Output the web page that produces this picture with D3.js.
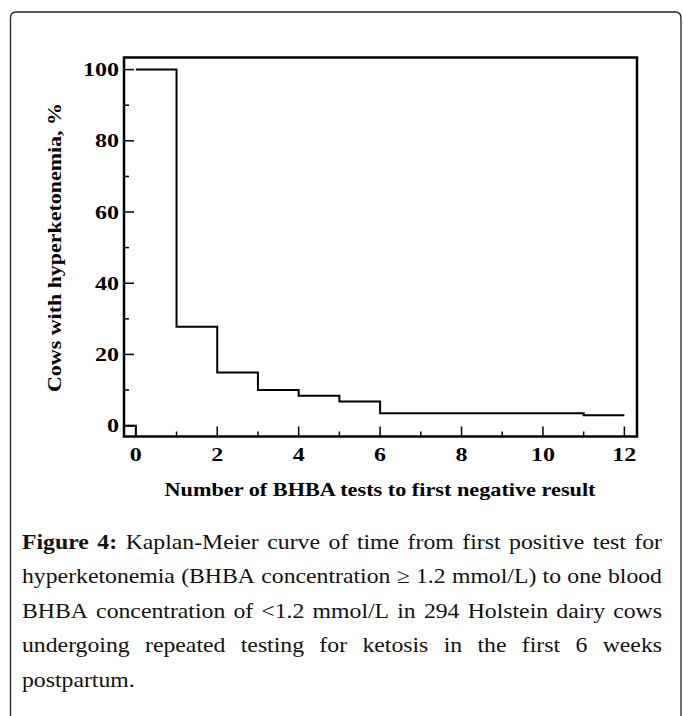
<!DOCTYPE html>
<html>
<head>
<meta charset="utf-8">
<script src="https://cdn.jsdelivr.net/npm/d3@7"></script>
<style>
  body { margin: 0; background: #fff; }
  svg { display: block; }
</style>
</head>
<body>
<svg id="plot"></svg>
<script>
// Kaplan-Meier step values (time = number of tests, value = % still hyperketonemic)
const times = [0, 1, 2, 3, 4, 5, 6, 7, 8, 9, 10, 11, 12];
const survival = [100, 27.8, 14.9, 10.0, 8.4, 6.8, 3.5, 3.5, 3.5, 3.5, 3.5, 2.9, 2.9];
// tiny segment drawn at the origin
const startX = [-0.29, 0, 0];
const startY = [0, 0, -3.05];

const xMajor = [0, 2, 4, 6, 8, 10, 12];
const xMinor = [1, 3, 5, 7, 9, 11];
const yMajor = [0, 20, 40, 60, 80, 100];
const yMinor = [10, 30, 50, 70, 90];

const xTitle = "Number of BHBA tests to first negative result";
const yTitle = "Cows with hyperketonemia, %";
const captionLines = [
  [["Figure 4:", true], ["Kaplan-Meier curve of time from first positive test for", false]],
  [["hyperketonemia (BHBA concentration \u2265 1.2 mmol/L) to one blood", false]],
  [["BHBA concentration of <1.2 mmol/L in 294 Holstein dairy cows", false]],
  [["undergoing repeated testing for ketosis in the first 6 weeks", false]],
  [["postpartum.", false]],
];

const W = 683, H = 716;
const frame = { left: 124, right: 637, top: 57.5, bottom: 436.5 };
const FONT = "Liberation Serif";

const svg = d3.select("#plot").attr("width", W).attr("height", H);

// page box
svg.append("path")
  .attr("d", "M10.5,716 V18 Q10.5,12 16.5,12 H675 Q681,12 681,18 V716")
  .attr("fill", "none")
  .attr("stroke", "#222")
  .attr("stroke-width", 1.3);

const x = d3.scaleLinear().domain([-0.29, 12.31]).range([frame.left, frame.right]);
const y = d3.scaleLinear().domain([-3.05, 103.4]).range([frame.bottom, frame.top]);

// ticks (inward)
const g = svg.append("g");
g.selectAll(".xmaj").data(xMajor).enter().append("line")
  .attr("x1", d => x(d)).attr("x2", d => x(d))
  .attr("y1", frame.bottom).attr("y2", frame.bottom - 10)
  .attr("stroke", "#000").attr("stroke-width", 1.5);
g.selectAll(".xmin").data(xMinor).enter().append("line")
  .attr("x1", d => x(d)).attr("x2", d => x(d))
  .attr("y1", frame.bottom).attr("y2", frame.bottom - 5)
  .attr("stroke", "#000").attr("stroke-width", 1.5);
g.selectAll(".ymaj").data(yMajor).enter().append("line")
  .attr("y1", d => y(d)).attr("y2", d => y(d))
  .attr("x1", frame.left).attr("x2", frame.left + 10)
  .attr("stroke", "#000").attr("stroke-width", 1.5);
g.selectAll(".ymin").data(yMinor).enter().append("line")
  .attr("y1", d => y(d)).attr("y2", d => y(d))
  .attr("x1", frame.left).attr("x2", frame.left + 5)
  .attr("stroke", "#000").attr("stroke-width", 1.5);

// tick labels
g.selectAll(".xlab").data(xMajor).enter().append("text")
  .attr("x", d => x(d)).attr("y", 461)
  .attr("text-anchor", "middle")
  .attr("font-family", FONT).attr("font-weight", "bold").attr("font-size", 18)
  .attr("textLength", d => String(d).length * 12)
  .attr("lengthAdjust", "spacingAndGlyphs")
  .text(d => d);
g.selectAll(".ylab").data(yMajor).enter().append("text")
  .attr("x", 119).attr("y", d => y(d) + 6.5)
  .attr("text-anchor", "end")
  .attr("font-family", FONT).attr("font-weight", "bold").attr("font-size", 18)
  .attr("textLength", d => String(d).length * 12)
  .attr("lengthAdjust", "spacingAndGlyphs")
  .text(d => d);

// axis titles
svg.append("text")
  .attr("x", 380).attr("y", 496)
  .attr("text-anchor", "middle")
  .attr("font-family", FONT).attr("font-weight", "bold").attr("font-size", 19)
  .attr("textLength", 431).attr("lengthAdjust", "spacingAndGlyphs")
  .text(xTitle);
svg.append("text")
  .attr("transform", "translate(61,247.5) rotate(-90)")
  .attr("text-anchor", "middle")
  .attr("font-family", FONT).attr("font-weight", "bold").attr("font-size", 19)
  .attr("textLength", 289).attr("lengthAdjust", "spacingAndGlyphs")
  .text(yTitle);

// KM curve
const km = times.map((t, i) => [t, survival[i]]);
const stepLine = d3.line().x(d => x(d[0])).y(d => y(d[1])).curve(d3.curveStepAfter);
svg.append("path")
  .attr("d", stepLine(km))
  .attr("fill", "none").attr("stroke", "#000").attr("stroke-width", 2);

const startLine = d3.line().x(d => x(d[0])).y(d => y(d[1]));
svg.append("path")
  .attr("d", startLine(startX.map((v, i) => [v, startY[i]])))
  .attr("fill", "none").attr("stroke", "#000").attr("stroke-width", 2);

// frame
svg.append("rect")
  .attr("x", frame.left).attr("y", frame.top)
  .attr("width", frame.right - frame.left).attr("height", frame.bottom - frame.top)
  .attr("fill", "none").attr("stroke", "#000").attr("stroke-width", 2.5);

// caption, justified between left and right edges (one text per word)
const capLeft = 22, capRight = 662, capTop = 549, capStep = 34.4, stretch = 1.13;
captionLines.forEach((parts, li) => {
  const words = [];
  parts.forEach(([txt, bold]) => txt.split(" ").forEach(w => words.push({ w, bold })));
  const texts = words.map(d => svg.append("text")
    .attr("font-family", FONT)
    .attr("font-size", 21).attr("fill", "#111")
    .attr("font-weight", d.bold ? "bold" : "normal")
    .attr("y", capTop + li * capStep)
    .text(d.w));
  const widths = texts.map(t => t.node().getComputedTextLength() * stretch);
  const last = li === captionLines.length - 1;
  const gap = last ? 6 : (capRight - capLeft - d3.sum(widths)) / (words.length - 1);
  let cx = capLeft;
  texts.forEach((t, i) => {
    t.attr("x", cx).attr("textLength", widths[i]).attr("lengthAdjust", "spacingAndGlyphs");
    cx += widths[i] + gap;
  });
});
</script>
</body>
</html>
